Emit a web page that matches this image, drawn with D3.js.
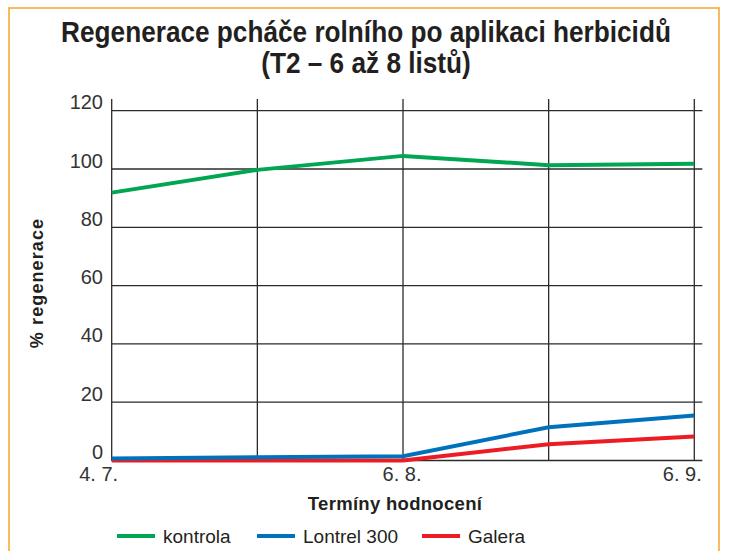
<!DOCTYPE html>
<html>
<head>
<meta charset="utf-8">
<script src="https://cdn.jsdelivr.net/npm/d3@7.9.0/dist/d3.min.js"></script>
<style>
  html, body { margin: 0; padding: 0; background: #fff; }
  svg { display: block; }
  text { fill: #231f20; font-family: "Liberation Sans", Arial, sans-serif; }
</style>
</head>
<body>
<div id="chart"></div>
<script>
/* ---------------- DATA ---------------- */

const dates = ["4. 7.", "", "6. 8.", "", "6. 9."];
const kontrola = [91.9, 99.7, 104.5, 101.3, 101.8];
const lontrel = [0.7, 1.1, 1.5, 11.4, 15.4];
const galera = [0, 0, 0, 5.6, 8.2];
const yTicks = [0, 20, 40, 60, 80, 100, 120];

const seriesNames = ["kontrola", "Lontrel 300", "Galera"];
const seriesColors = ["#00a651", "#0072bc", "#ed1c24"];
const seriesValues = [kontrola, lontrel, galera];

/* ---------------- LAYOUT ---------------- */

const width = 729;
const height = 551;

const svg = d3.select("#chart")
  .append("svg")
  .attr("width", width)
  .attr("height", height);

// orange frame (bottom edge falls outside the picture)
svg.append("rect")
  .attr("x", 9)
  .attr("y", 8)
  .attr("width", 710)
  .attr("height", 600)
  .attr("fill", "#fff")
  .attr("stroke", "#f6ab3a")
  .attr("stroke-width", 1.6);

const xScale = d3.scalePoint()
  .domain(d3.range(dates.length))
  .range([111.7, 694.3]);

const yScale = d3.scaleLinear()
  .domain([0, 120])
  .range([460.5, 110.7]);

/* ---------------- TITLE ---------------- */

const titleLines = ["Regenerace pcháče rolního po aplikaci herbicidů", "(T2 – 6 až 8 listů)"];

const titles = svg.append("g")
  .selectAll("text")
  .data(titleLines)
  .join("text")
  .attr("text-anchor", "middle")
  .style("font-weight", "bold")
  .style("font-size", "29px")
  .text(d => d);

// condensed look: squeeze horizontally so line 1 is ~610px wide
const sx = 610 / titles.nodes()[0].getComputedTextLength();
titles.attr("transform", (d, i) => `translate(366,${42 + i * 31}) scale(${sx},1)`);

/* ---------------- GRID ---------------- */

const grid = svg.append("g").attr("stroke", "#2b2b2b").attr("stroke-width", 1.3);

grid.selectAll("line.h")
  .data(yTicks)
  .join("line")
  .attr("class", "h")
  .attr("x1", xScale(0))
  .attr("x2", xScale(4) + 8)
  .attr("y1", d => yScale(d))
  .attr("y2", d => yScale(d));

grid.selectAll("line.v")
  .data(d3.range(dates.length))
  .join("line")
  .attr("class", "v")
  .attr("x1", d => xScale(d))
  .attr("x2", d => xScale(d))
  .attr("y1", 99)
  .attr("y2", yScale(0) + 0.5);

/* ---------------- AXIS LABELS ---------------- */

svg.append("g")
  .selectAll("text")
  .data(yTicks)
  .join("text")
  .attr("x", 103)
  .attr("y", d => yScale(d) - 1.5)
  .attr("text-anchor", "end")
  .style("font-size", "20px")
  .style("fill", "#333")
  .text(d => d);

const xLabelShift = [-13, 0, -1, 0, -12];

svg.append("g")
  .selectAll("text")
  .data(d3.range(dates.length).filter(i => dates[i] !== ""))
  .join("text")
  .attr("x", i => xScale(i) + xLabelShift[i])
  .attr("y", 481)
  .attr("text-anchor", "middle")
  .style("font-size", "20px")
  .style("fill", "#333")
  .text(i => dates[i]);

svg.append("text")
  .attr("x", 395)
  .attr("y", 510)
  .attr("text-anchor", "middle")
  .style("font-weight", "bold")
  .style("font-size", "18.5px")
  .style("letter-spacing", "0.3px")
  .text("Termíny hodnocení");

svg.append("text")
  .attr("transform", "translate(43,283) rotate(-90)")
  .attr("text-anchor", "middle")
  .style("font-weight", "bold")
  .style("font-size", "18px")
  .style("letter-spacing", "1.1px")
  .text("% regenerace");

/* ---------------- LINES ---------------- */

const line = d3.line()
  .x((d, i) => xScale(i))
  .y(d => yScale(d));

// draw Galera first so Lontrel sits on top along the zero line
const order = [0, 2, 1];

svg.append("g")
  .selectAll("path")
  .data(order)
  .join("path")
  .attr("d", k => line(seriesValues[k]))
  .attr("fill", "none")
  .attr("stroke", k => seriesColors[k])
  .attr("stroke-width", 4);

/* ---------------- LEGEND ---------------- */

const legendX = [117, 257, 422];

const legend = svg.append("g")
  .selectAll("g")
  .data(seriesNames)
  .join("g")
  .attr("transform", (d, i) => `translate(${legendX[i]},536)`);

legend.append("line")
  .attr("x1", 0)
  .attr("x2", 38)
  .attr("stroke", (d, i) => seriesColors[i])
  .attr("stroke-width", 4);

legend.append("text")
  .attr("x", 46)
  .attr("y", 6.5)
  .style("font-size", "19px")
  .text(d => d);
</script>
</body>
</html>
